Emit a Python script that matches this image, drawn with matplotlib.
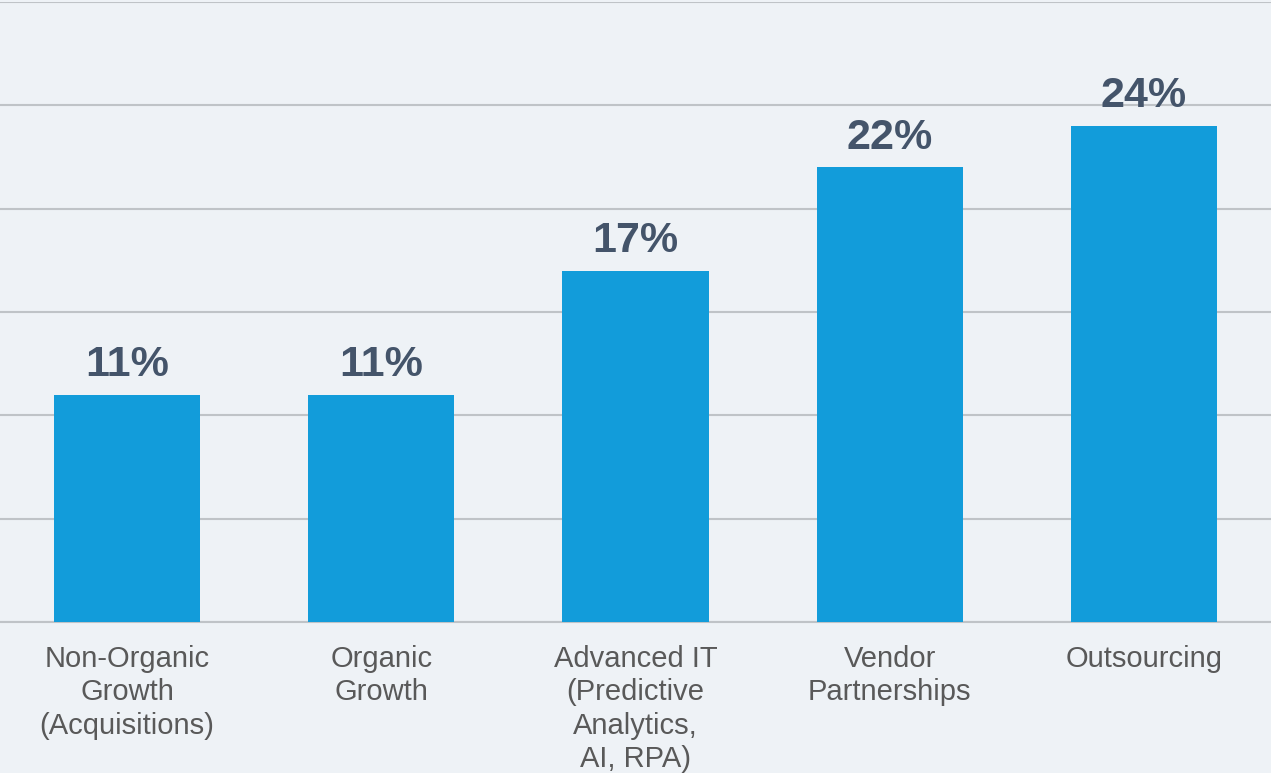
import matplotlib
matplotlib.use("Agg")
import matplotlib.pyplot as plt

categories = ["Non-Organic\nGrowth\n(Acquisitions)", "Organic\nGrowth",
              "Advanced IT\n(Predictive\nAnalytics,\nAI, RPA)", "Vendor\nPartnerships",
              "Outsourcing"]
values = [11, 11, 17, 22, 24]
value_labels = ["11%", "11%", "17%", "22%", "24%"]

bg = "#EEF2F6"
plt.rcParams['font.family'] = ['Liberation Sans', 'DejaVu Sans']

fig = plt.figure(figsize=(12.71, 7.73), dpi=100, facecolor=bg)
ax = fig.add_axes([0, 0.1953, 1, 0.8021])
ax.set_facecolor(bg)

x = list(range(len(values)))
bars = ax.bar(x, values, width=0.575, color="#129CDA", zorder=3)
ax.set_xlim(-0.5, 4.5)
ax.set_ylim(0, 30)
ax.set_yticks([0, 5, 10, 15, 20, 25, 30])
ax.yaxis.grid(True, color="#BFC3C7", linewidth=1.5, zorder=0)
ax.tick_params(axis='y', left=False, labelleft=False)
ax.tick_params(axis='x', bottom=False, pad=13)
ax.set_xticks(x)
ax.set_xticklabels(categories, fontsize=21, color="#595959", linespacing=1.25)
for s in ["top", "right", "left"]:
    ax.spines[s].set_visible(False)
ax.spines["bottom"].set_color("#BFC3C7")
ax.spines["bottom"].set_linewidth(1.5)

for xi, v, lab in zip(x, values, value_labels):
    ax.annotate(lab, (xi, v), xytext=(0, 7), textcoords="offset points",
                ha="center", va="bottom", fontsize=31, fontweight="bold",
                color="#44546A", zorder=4)

fig.savefig("out.png", dpi=100, facecolor=bg)
